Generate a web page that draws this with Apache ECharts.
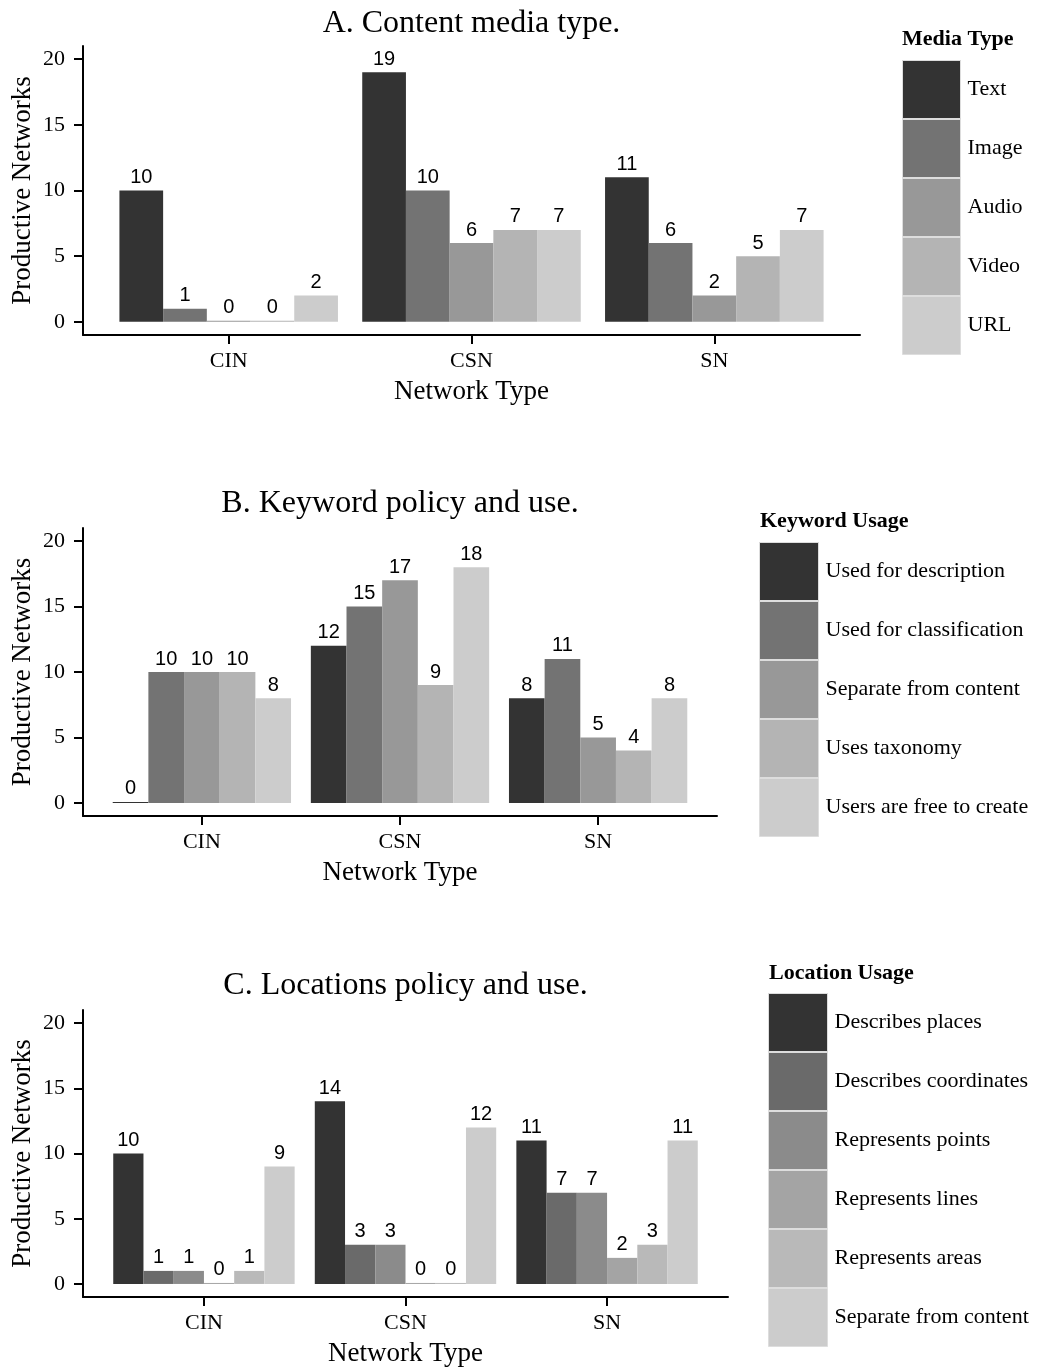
<!DOCTYPE html>
<html><head><meta charset="utf-8">
<script src="https://cdn.jsdelivr.net/npm/echarts@6/dist/echarts.min.js"></script>
<style>
html,body{margin:0;padding:0;background:#fff;width:1037px;height:1367px;overflow:hidden}
.p{position:absolute;left:0;width:1037px}
</style></head>
<body>
<div id="pA" class="p" style="top:0;height:460px"></div>
<div id="pB" class="p" style="top:460px;height:480px"></div>
<div id="pC" class="p" style="top:940px;height:427px"></div>
<script>
// ---- shared ----
const networkTypes = ['CIN', 'CSN', 'SN'];
const yTicks = [0, 5, 10, 15, 20];
const xTicks = [0, 1, 2];

// ---- Panel A: Content media type ----
const titleA = 'A. Content media type.';
const legendTitleA = 'Media Type';
const mediaTypes = ['Text', 'Image', 'Audio', 'Video', 'URL'];
const mediaText  = [10, 19, 11];
const mediaImage = [1, 10, 6];
const mediaAudio = [0, 6, 2];
const mediaVideo = [0, 7, 5];
const mediaURL   = [2, 7, 7];
const coloursA = ['#333333', '#737373', '#989898', '#b4b4b4', '#cccccc'];

// ---- Panel B: Keyword policy and use ----
const titleB = 'B. Keyword policy and use.';
const legendTitleB = 'Keyword Usage';
const keywordUsage = ['Used for description', 'Used for classification', 'Separate from content', 'Uses taxonomy', 'Users are free to create'];
const kwDescription    = [0, 12, 8];
const kwClassification = [10, 15, 11];
const kwSeparate       = [10, 17, 5];
const kwTaxonomy       = [10, 9, 4];
const kwFreeCreate     = [8, 18, 8];
const coloursB = ['#333333', '#737373', '#989898', '#b4b4b4', '#cccccc'];

// ---- Panel C: Locations policy and use ----
const titleC = 'C. Locations policy and use.';
const legendTitleC = 'Location Usage';
const locationUsage = ['Describes places', 'Describes coordinates', 'Represents points', 'Represents lines', 'Represents areas', 'Separate from content'];
const locPlaces      = [10, 14, 11];
const locCoordinates = [1, 3, 7];
const locPoints      = [1, 3, 7];
const locLines       = [0, 0, 2];
const locAreas       = [1, 0, 3];
const locSeparate    = [9, 12, 11];
const coloursC = ['#333333', '#6a6a6a', '#8b8b8b', '#a4a4a4', '#b9b9b9', '#cccccc'];

const SERIF = '"Liberation Serif", "Times New Roman", serif';
const SANS = '"Liberation Sans", Arial, sans-serif';

function buildOption(cfg) {
  const series = cfg.names.map((name, i) => ({
    type: 'bar',
    name: name,
    data: cfg.values[i].map((v, k) => [k, v]),
    barGap: '0%',
    barCategoryGap: '10%',
    barMinHeight: 1,
    itemStyle: { color: cfg.colours[i] },
    label: {
      show: true, position: 'top', distance: 3,
      fontFamily: SANS, fontSize: 20, color: '#000',
      formatter: p => String(p.value[1])
    },
    emphasis: { disabled: true }
  }));
  return {
    animation: false,
    backgroundColor: '#ffffff',
    grid: {
      left: cfg.grid.left, top: cfg.grid.top, width: cfg.grid.width, height: cfg.grid.height,
      containLabel: false, outerBoundsMode: 'none'
    },
    xAxis: {
      type: 'value', min: -0.6, max: 2.6,
      splitLine: { show: false },
      axisLine: { show: true, onZero: false, lineStyle: { color: '#000', width: 2 } },
      axisTick: { show: true, customValues: xTicks, length: 9, lineStyle: { color: '#000', width: 2 } },
      axisLabel: {
        customValues: xTicks, margin: 15,
        fontFamily: SERIF, fontSize: 22, color: '#000',
        formatter: v => networkTypes[Math.round(v)]
      },
      name: 'Network Type', nameLocation: 'middle', nameGap: 43,
      nameTextStyle: { fontFamily: SERIF, fontSize: 27, color: '#000' }
    },
    yAxis: {
      type: 'value', min: -1, max: 21,
      splitLine: { show: false },
      axisLine: { show: true, onZero: false, lineStyle: { color: '#000', width: 2 } },
      axisTick: { show: true, customValues: yTicks, length: 9, lineStyle: { color: '#000', width: 2 } },
      axisLabel: { customValues: yTicks, margin: 18, fontFamily: SERIF, fontSize: 22, color: '#000' },
      name: 'Productive Networks', nameLocation: 'middle', nameGap: 47, nameRotate: 90,
      nameMoveOverlap: false,
      nameTextStyle: { fontFamily: SERIF, fontSize: 27, color: '#000' }
    },
    legend: {
      orient: 'vertical', left: cfg.legend.left, top: cfg.legend.top,
      itemWidth: cfg.legend.keyWidth, itemHeight: 58, itemGap: 0, padding: 0,
      icon: 'rect', selectedMode: false, data: cfg.names,
      itemStyle: { borderColor: '#dddddd', borderWidth: 1 },
      textStyle: { fontFamily: SERIF, fontSize: 22, color: '#000', padding: [0, 0, 0, 2] }
    },
    graphic: [
      { type: 'text', x: cfg.title.x, y: cfg.title.y, silent: true,
        style: { text: cfg.title.text, fill: '#000', font: '32px ' + SERIF,
                 align: 'center', verticalAlign: 'middle', textAlign: 'center', textVerticalAlign: 'middle' } },
      { type: 'text', x: cfg.legendTitle.x, y: cfg.legendTitle.y, silent: true,
        style: { text: cfg.legendTitle.text, fill: '#000', font: 'bold 22px ' + SERIF,
                 align: 'left', verticalAlign: 'middle', textAlign: 'left', textVerticalAlign: 'middle' } }
    ],
    series: series
  };
}

const cfgA = {
  names: mediaTypes,
  values: [mediaText, mediaImage, mediaAudio, mediaVideo, mediaURL],
  colours: coloursA,
  grid: { left: 83, top: 46, width: 777, height: 289 },
  legend: { left: 902, top: 60, keyWidth: 58 },
  title: { text: titleA, x: 471.5, y: 24 },
  legendTitle: { text: legendTitleA, x: 902, y: 39 }
};
const cfgB = {
  names: keywordUsage,
  values: [kwDescription, kwClassification, kwSeparate, kwTaxonomy, kwFreeCreate],
  colours: coloursB,
  grid: { left: 83, top: 68, width: 634, height: 288 },
  legend: { left: 759, top: 82, keyWidth: 59 },
  title: { text: titleB, x: 400, y: 44 },
  legendTitle: { text: legendTitleB, x: 760, y: 61.5 }
};
const cfgC = {
  names: locationUsage,
  values: [locPlaces, locCoordinates, locPoints, locLines, locAreas, locSeparate],
  colours: coloursC,
  grid: { left: 83, top: 70, width: 645, height: 287 },
  legend: { left: 768, top: 53, keyWidth: 59 },
  title: { text: titleC, x: 405.5, y: 46 },
  legendTitle: { text: legendTitleC, x: 769, y: 33 }
};

[['pA', cfgA], ['pB', cfgB], ['pC', cfgC]].forEach(([id, cfg]) => {
  const chart = echarts.init(document.getElementById(id), null, { renderer: 'canvas' });
  chart.setOption(buildOption(cfg));
});
</script>
</body></html>
